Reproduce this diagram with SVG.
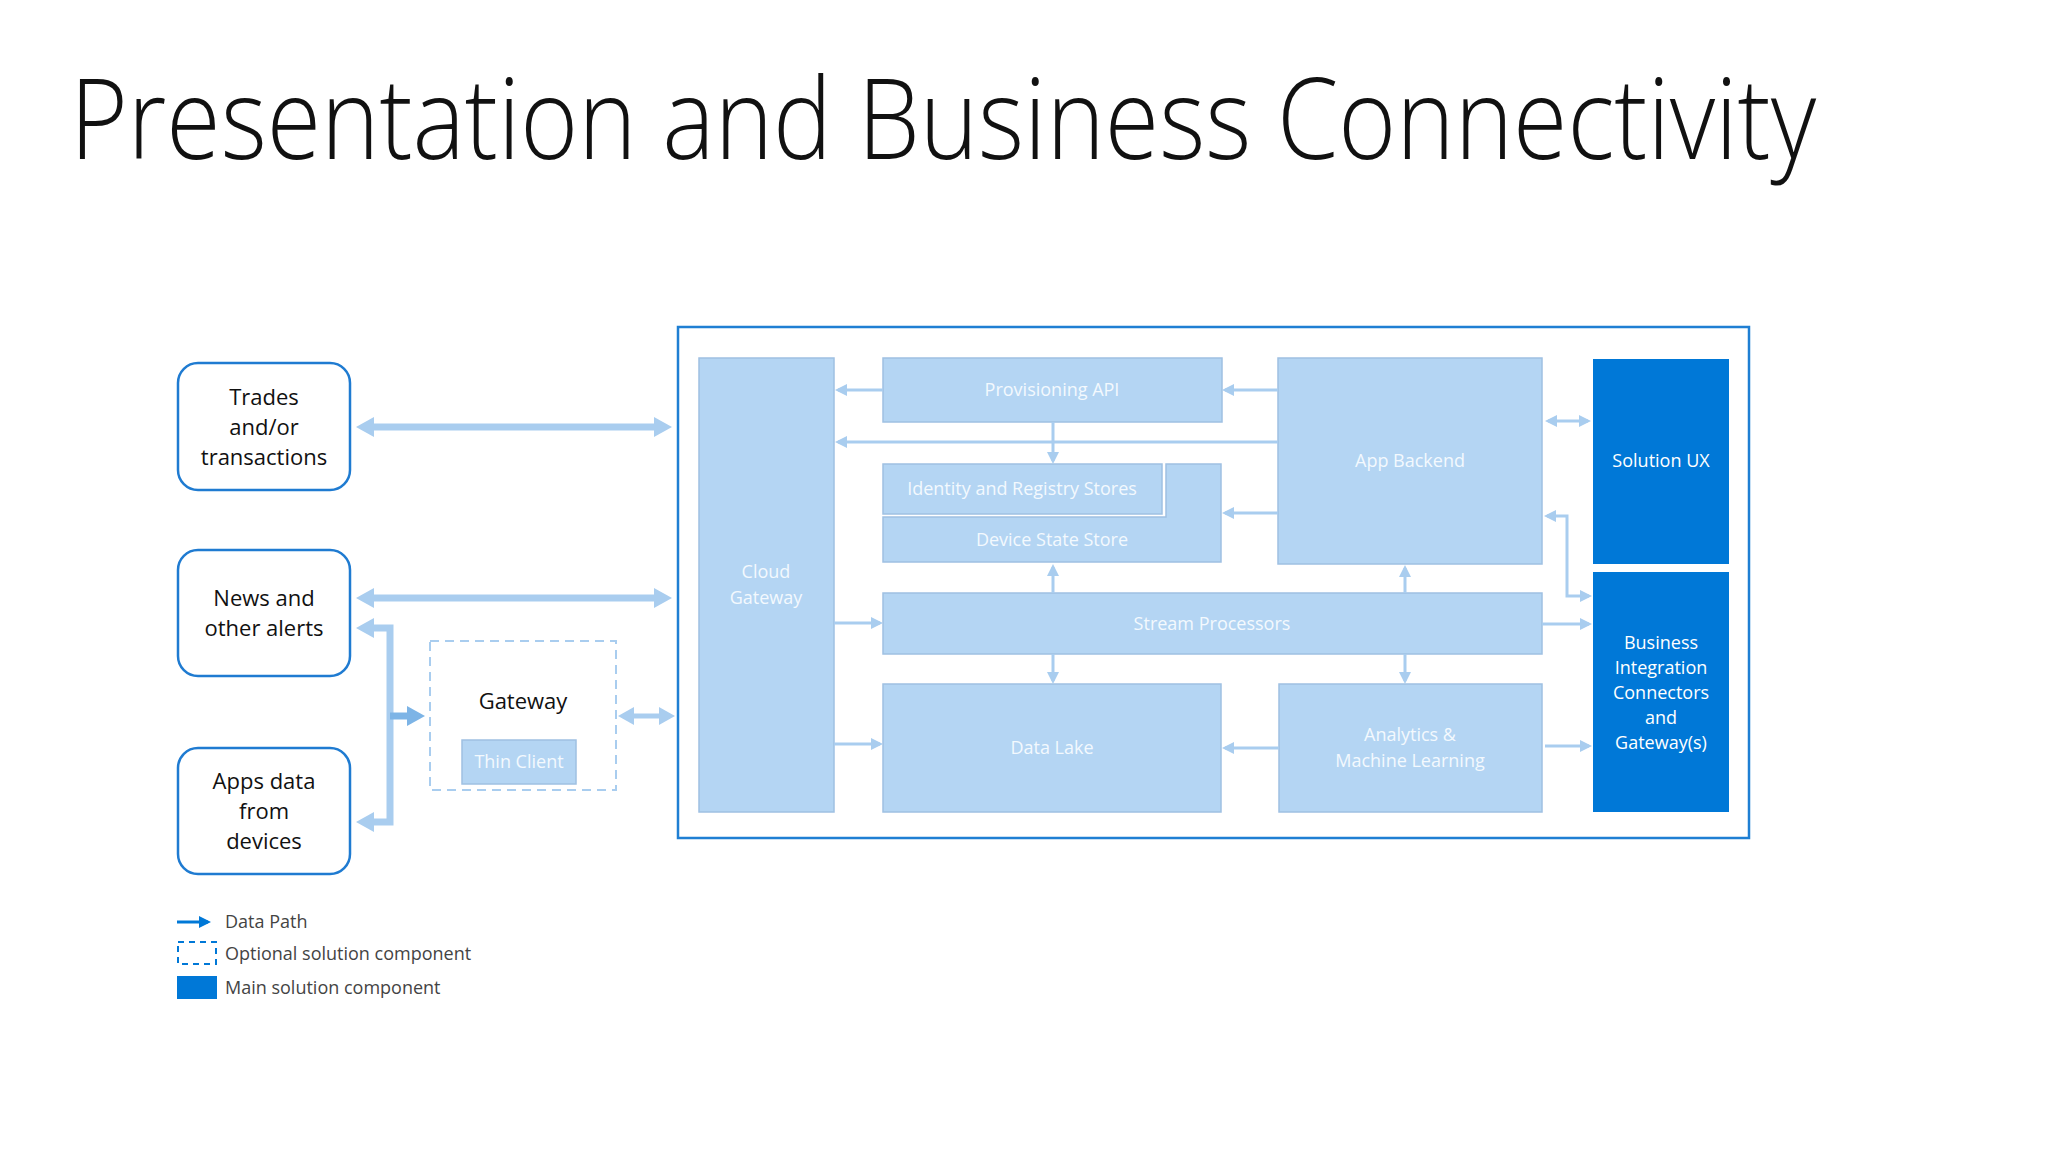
<svg xmlns="http://www.w3.org/2000/svg" width="2048" height="1152" viewBox="0 0 2048 1152">
<style>
.title{font-family:"Open Sans","Noto Sans",sans-serif;font-weight:300;font-size:112px;fill:#111}
.src{fill:#fff;stroke:#1f7bd1;stroke-width:2.5}
.srct{font-family:"Open Sans","Noto Sans",sans-serif;font-size:22px;fill:#111;text-anchor:middle}
.lb{fill:#b4d5f3;stroke:#9fc0e2;stroke-width:1.5}
.lbt{font-family:"Open Sans","Noto Sans",sans-serif;font-size:18px;fill:#f3f9fe;text-anchor:middle}
.db{fill:#0078d7}
.dbt{font-family:"Open Sans","Noto Sans",sans-serif;font-size:18px;fill:#fff;text-anchor:middle}
.big{fill:none;stroke:#a9cdef;stroke-width:7;marker-end:url(#mB)}
.med{fill:none;stroke:#a9cdef;stroke-width:5;marker-end:url(#mM)}
.sm{fill:none;stroke:#a9cdef;stroke-width:3;marker-end:url(#mS)}
.leg{font-family:"Open Sans","Noto Sans",sans-serif;font-size:18px;fill:#444}
</style>
<defs>
<marker id="mB" viewBox="0 0 18 20" refX="11" refY="10" markerWidth="18" markerHeight="20" markerUnits="userSpaceOnUse" orient="auto-start-reverse"><path d="M0,0 L18,10 L0,20 Z" fill="#a9cdef"/></marker>
<marker id="mBd" viewBox="0 0 18 20" refX="11" refY="10" markerWidth="18" markerHeight="20" markerUnits="userSpaceOnUse" orient="auto"><path d="M0,0 L18,10 L0,20 Z" fill="#7db4e6"/></marker>
<marker id="mM" viewBox="0 0 16 18" refX="11" refY="9" markerWidth="16" markerHeight="18" markerUnits="userSpaceOnUse" orient="auto-start-reverse"><path d="M0,0 L16,9 L0,18 Z" fill="#a9cdef"/></marker>
<marker id="mS" viewBox="0 0 12 12" refX="9" refY="6" markerWidth="12" markerHeight="12" markerUnits="userSpaceOnUse" orient="auto-start-reverse"><path d="M0,0 L12,6 L0,12 Z" fill="#a9cdef"/></marker>
<marker id="mL" viewBox="0 0 12 12" refX="9" refY="6" markerWidth="12" markerHeight="12" markerUnits="userSpaceOnUse" orient="auto"><path d="M0,0 L12,6 L0,12 Z" fill="#0078d7"/></marker>
</defs>
<rect width="2048" height="1152" fill="#fff"/>
<g id="title" transform="translate(70,159) scale(0.883,1)"><text class="title" x="0" y="0">Presentation and Business Connectivity</text></g>

<g id="trades"><rect class="src" x="178" y="363" width="172" height="127" rx="20"/>
<text class="srct"><tspan x="264" y="405">Trades</tspan><tspan x="264" y="435">and/or</tspan><tspan x="264" y="465">transactions</tspan></text></g>
<g id="news"><rect class="src" x="178" y="550" width="172" height="126" rx="20"/>
<text class="srct"><tspan x="264" y="606">News and</tspan><tspan x="264" y="636">other alerts</tspan></text></g>
<g id="apps"><rect class="src" x="178" y="748" width="172" height="126" rx="20"/>
<text class="srct"><tspan x="264" y="789">Apps data</tspan><tspan x="264" y="819">from</tspan><tspan x="264" y="849">devices</tspan></text></g>

<g id="gateway"><rect x="430" y="641" width="186" height="149" fill="none" stroke="#a9cdef" stroke-width="2" stroke-dasharray="9,6"/>
<text class="srct" x="523" y="709">Gateway</text></g>
<g id="thin-client"><rect class="lb" x="462" y="740" width="114" height="44"/>
<text class="lbt" x="519" y="768">Thin Client</text></g>

<g id="container"><rect x="678" y="327" width="1071" height="511" fill="#fff" stroke="#1f7fd3" stroke-width="2.5"/></g>

<g id="cloud-gateway"><rect class="lb" x="699" y="358" width="135" height="454"/>
<text class="lbt"><tspan x="766" y="578">Cloud</tspan><tspan x="766" y="604">Gateway</tspan></text></g>
<g id="provisioning-api"><rect class="lb" x="883" y="358" width="339" height="64"/>
<text class="lbt" x="1052" y="396">Provisioning API</text></g>
<g id="identity-registry"><rect class="lb" x="883" y="464" width="279" height="50"/>
<text class="lbt" x="1022" y="495">Identity and Registry Stores</text></g>
<g id="device-state-store"><path class="lb" d="M883,517 H1166 V464 H1221 V562 H883 Z"/>
<text class="lbt" x="1052" y="546">Device State Store</text></g>
<g id="app-backend"><rect class="lb" x="1278" y="358" width="264" height="206"/>
<text class="lbt" x="1410" y="467">App Backend</text></g>
<g id="stream-processors"><rect class="lb" x="883" y="593" width="659" height="61"/>
<text class="lbt" x="1212" y="630">Stream Processors</text></g>
<g id="data-lake"><rect class="lb" x="883" y="684" width="338" height="128"/>
<text class="lbt" x="1052" y="754">Data Lake</text></g>
<g id="analytics-ml"><rect class="lb" x="1279" y="684" width="263" height="128"/>
<text class="lbt"><tspan x="1410" y="741">Analytics &amp;</tspan><tspan x="1410" y="767">Machine Learning</tspan></text></g>
<g id="solution-ux"><rect class="db" x="1593" y="359" width="136" height="205"/>
<text class="dbt" x="1661" y="467">Solution UX</text></g>
<g id="business-integration"><rect class="db" x="1593" y="572" width="136" height="240"/>
<text class="dbt"><tspan x="1661" y="649">Business</tspan><tspan x="1661" y="674">Integration</tspan><tspan x="1661" y="699">Connectors</tspan><tspan x="1661" y="724">and</tspan><tspan x="1661" y="749">Gateway(s)</tspan></text></g>

<g id="connectors">
<path class="big" d="M363,427 H665" marker-start="url(#mB)"/>
<path class="big" d="M363,598 H665" marker-start="url(#mB)"/>
<path class="big" d="M363,628 H390 V822 H363" marker-start="url(#mB)" stroke-linejoin="miter"/>
<path d="M390,716 H418" fill="none" stroke="#7db4e6" stroke-width="7" marker-end="url(#mBd)"/>
<path class="med" d="M623,716 H670" marker-start="url(#mM)"/>
<path class="sm" d="M883,390 H838"/>
<path class="sm" d="M1278,390 H1225"/>
<path class="sm" d="M1278,442 H838"/>
<path class="sm" d="M1053,422 V461"/>
<path class="sm" d="M1278,513 H1225"/>
<path class="sm" d="M1053,593 V567"/>
<path class="sm" d="M1053,654 V681"/>
<path class="sm" d="M834,623 H880"/>
<path class="sm" d="M834,744 H880"/>
<path class="sm" d="M1279,748 H1225"/>
<path class="sm" d="M1405,593 V568"/>
<path class="sm" d="M1405,654 V681"/>
<path class="sm" d="M1548,421 H1588" marker-start="url(#mS)"/>
<path class="sm" d="M1547,516 H1567 V596 H1589" marker-start="url(#mS)"/>
<path class="sm" d="M1542,624 H1589"/>
<path class="sm" d="M1545,746 H1589"/>
</g>

<g id="legend">
<path d="M177,922 H208" stroke="#0078d7" stroke-width="3" fill="none" marker-end="url(#mL)"/>
<text class="leg" x="225" y="928">Data Path</text>
<rect x="178" y="942" width="38" height="22" fill="none" stroke="#0078d7" stroke-width="2" stroke-dasharray="6,5"/>
<text class="leg" x="225" y="960">Optional solution component</text>
<rect x="177" y="976" width="40" height="23" fill="#0078d7"/>
<text class="leg" x="225" y="994">Main solution component</text>
</g>
</svg>
